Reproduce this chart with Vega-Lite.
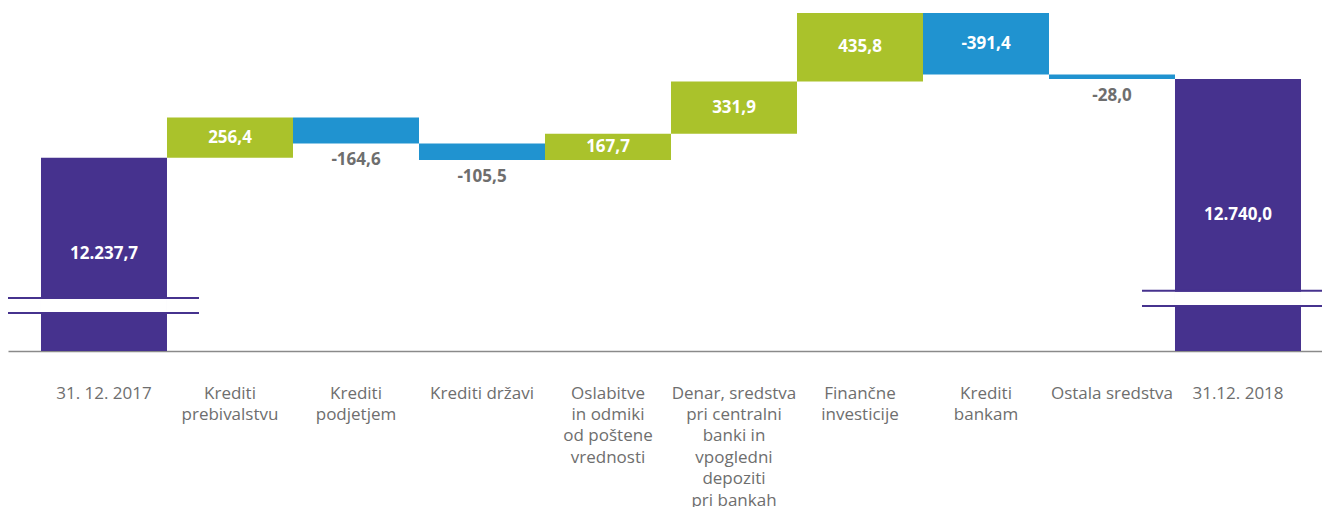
{
  "$schema": "https://vega.github.io/schema/vega-lite/v6.json",
  "width": 1314,
  "height": 351,
  "autosize": {"type": "none"},
  "padding": {"left": 8, "top": 0, "right": 0, "bottom": 156},
  "config": {
    "view": {"stroke": null},
    "locale": {"number": {"decimal": ",", "thousands": ".", "grouping": [3], "currency": ["", " €"], "minus": "-"}},
    "text": {"font": "Open Sans"}
  },
  "data": {
    "values": [
      {"cat": "31. 12. 2017", "type": "total", "start": 0, "end": 12237.7, "value": 12237.7},
      {"cat": "Krediti|prebivalstvu", "type": "increase", "start": 12237.7, "end": 12494.1, "value": 256.4},
      {"cat": "Krediti|podjetjem", "type": "decrease", "start": 12494.1, "end": 12329.5, "value": -164.6},
      {"cat": "Krediti državi", "type": "decrease", "start": 12329.5, "end": 12224.0, "value": -105.5},
      {"cat": "Oslabitve|in odmiki|od poštene|vrednosti", "type": "increase", "start": 12224.0, "end": 12391.7, "value": 167.7},
      {"cat": "Denar, sredstva|pri centralni|banki in|vpogledni|depoziti|pri bankah", "type": "increase", "start": 12391.7, "end": 12723.6, "value": 331.9},
      {"cat": "Finančne|investicije", "type": "increase", "start": 12723.6, "end": 13159.4, "value": 435.8},
      {"cat": "Krediti|bankam", "type": "decrease", "start": 13159.4, "end": 12768.0, "value": -391.4},
      {"cat": "Ostala sredstva", "type": "decrease", "start": 12768.0, "end": 12740.0, "value": -28.0},
      {"cat": "31.12. 2018", "type": "total", "start": 0, "end": 12740.0, "value": 12740.0}
    ]
  },
  "encoding": {
    "x": {
      "field": "cat", "type": "nominal", "sort": null,
      "scale": {"paddingInner": 0, "paddingOuter": 0.2143, "align": 0.611},
      "axis": {
        "title": null, "labelAngle": 0, "ticks": false,
        "domainColor": "#8a8a8a", "domainWidth": 1.6,
        "labelExpr": "split(datum.label, '|')",
        "labelFont": "Open Sans", "labelFontSize": 17, "labelColor": "#6e6e6e",
        "labelLineHeight": 21.4, "labelPadding": 34, "labelLimit": 0
      }
    }
  },
  "layer": [
    {
      "mark": {"type": "bar", "clip": true},
      "encoding": {
        "y": {"field": "start", "type": "quantitative", "scale": {"domain": [11008.7, 13242], "zero": false, "nice": false}, "axis": null},
        "y2": {"field": "end"},
        "color": {
          "field": "type", "type": "nominal", "legend": null,
          "scale": {"domain": ["total", "increase", "decrease"], "range": ["#46328e", "#aac22b", "#2093d0"]}
        }
      }
    },
    {
      "transform": [{"filter": "datum.cat == '31. 12. 2017'"}],
      "layer": [
        {"mark": {"type": "bar", "color": "white"}, "encoding": {"y": {"datum": 11339.5}, "y2": {"datum": 11256.9}}},
        {"mark": {"type": "rule", "color": "#46328e", "strokeWidth": 2, "xOffset": -33, "x2Offset": 32},
         "encoding": {"x": {"field": "cat", "type": "nominal", "sort": null, "bandPosition": 0}, "x2": {"field": "cat", "bandPosition": 1}, "y": {"datum": 11345.9}}},
        {"mark": {"type": "rule", "color": "#46328e", "strokeWidth": 2, "xOffset": -33, "x2Offset": 32},
         "encoding": {"x": {"field": "cat", "type": "nominal", "sort": null, "bandPosition": 0}, "x2": {"field": "cat", "bandPosition": 1}, "y": {"datum": 11250.5}}}
      ]
    },
    {
      "transform": [{"filter": "datum.cat == '31.12. 2018'"}],
      "layer": [
        {"mark": {"type": "bar", "color": "white"}, "encoding": {"y": {"datum": 11386.0}, "y2": {"datum": 11301.4}}},
        {"mark": {"type": "rule", "color": "#46328e", "strokeWidth": 2, "xOffset": -33, "x2Offset": 21},
         "encoding": {"x": {"field": "cat", "type": "nominal", "sort": null, "bandPosition": 0}, "x2": {"field": "cat", "bandPosition": 1}, "y": {"datum": 11392.4}}},
        {"mark": {"type": "rule", "color": "#46328e", "strokeWidth": 2, "xOffset": -33, "x2Offset": 21},
         "encoding": {"x": {"field": "cat", "type": "nominal", "sort": null, "bandPosition": 0}, "x2": {"field": "cat", "bandPosition": 1}, "y": {"datum": 11295.0}}}
      ]
    },
    {
      "transform": [
        {"filter": "datum.type == 'total' || abs(datum.value) >= 200 || datum.type == 'increase'"},
        {"calculate": "datum.type == 'total' ? (datum.end + 11008.7) / 2 : (datum.start + datum.end) / 2", "as": "mid"}
      ],
      "mark": {"type": "text", "fontWeight": "bold", "fontSize": 17, "color": "white", "baseline": "middle"},
      "encoding": {
        "y": {"field": "mid", "type": "quantitative"},
        "text": {"field": "value", "type": "quantitative", "format": ",.1f"}
      }
    },
    {
      "transform": [{"filter": "datum.type == 'decrease' && abs(datum.value) < 200"}],
      "mark": {"type": "text", "fontWeight": "bold", "fontSize": 17, "color": "#6e6e6e", "baseline": "middle", "dy": 17},
      "encoding": {
        "y": {"field": "end", "type": "quantitative"},
        "text": {"field": "value", "type": "quantitative", "format": ",.1f"}
      }
    }
  ]
}
